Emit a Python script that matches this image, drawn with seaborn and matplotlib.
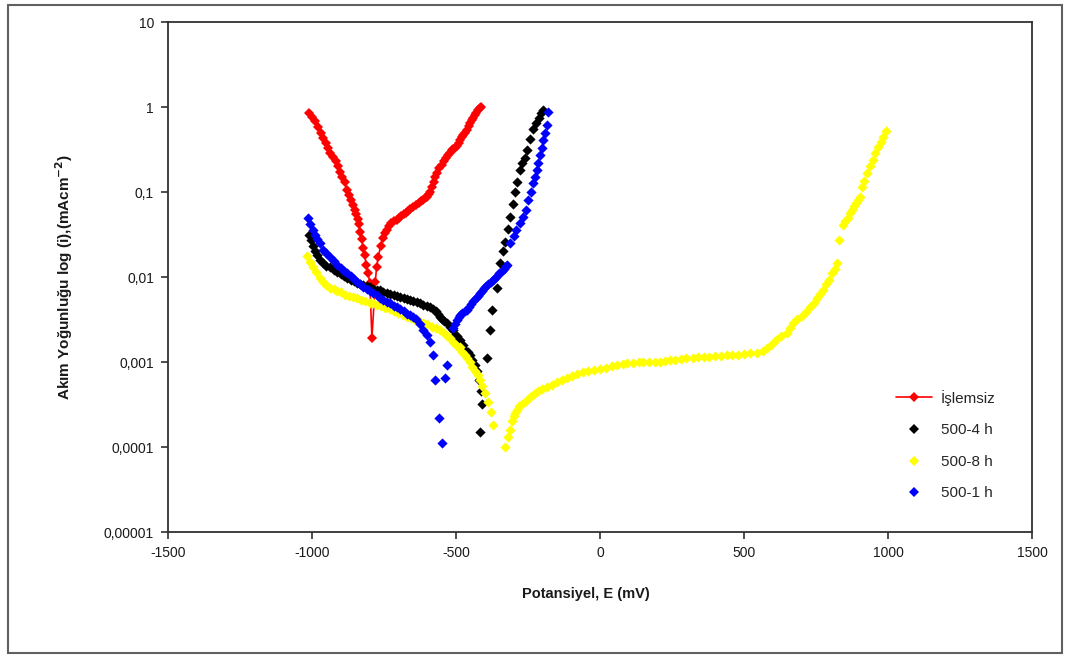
import numpy as np
import pandas as pd
import matplotlib
matplotlib.use("Agg")
import matplotlib.pyplot as plt
import seaborn as sns
from matplotlib.lines import Line2D
from matplotlib.patches import Rectangle
from matplotlib.ticker import FixedLocator, FixedFormatter, NullLocator

# ---------------- data ----------------
islemsiz_x = [-1010, -1000, -990, -980, -970, -962, -952, -945, -936, -928, -918, -910, -902, -895,
              -886, -878, -870, -865, -858, -851, -846, -842, -838, -833, -828, -822, -817, -812,
              -805, -799, -792, -780, -776, -770, -762, -753, -745, -740, -732, -725, -715, -705,
              -698, -690, -682, -675, -668, -660, -649, -640, -630, -622, -615, -608, -601, -595,
              -590, -584, -578, -572, -566, -558, -550, -543, -535, -528, -520, -515, -510, -503,
              -497, -491, -485, -480, -475, -468, -462, -456, -450, -445, -440, -435, -430, -424,
              -417, -412]
islemsiz_y = [0.85, 0.77, 0.68, 0.58, 0.50, 0.43, 0.38, 0.33, 0.29, 0.26, 0.23, 0.20, 0.17, 0.15,
              0.13, 0.105, 0.092, 0.08, 0.07, 0.062, 0.055, 0.048, 0.042, 0.034, 0.028, 0.022, 0.018, 0.014,
              0.011, 0.0085, 0.0019, 0.0088, 0.013, 0.017, 0.023, 0.029, 0.033, 0.036, 0.040, 0.043, 0.045, 0.047,
              0.050, 0.052, 0.055, 0.057, 0.060, 0.063, 0.067, 0.071, 0.075, 0.078, 0.081, 0.084, 0.088, 0.094,
              0.10, 0.115, 0.13, 0.15, 0.167, 0.19, 0.21, 0.23, 0.25, 0.27, 0.29, 0.31, 0.32, 0.33,
              0.35, 0.38, 0.41, 0.44, 0.47, 0.50, 0.54, 0.59, 0.65, 0.70, 0.75, 0.80, 0.85, 0.91,
              0.97, 1.0]

h4_x = [-1012, -1005, -997, -990, -982, -972, -962, -950, -938, -925, -912, -900, -888, -878, -866,
        -855, -843, -833, -823, -810, -798, -787, -775, -764, -752, -740, -728, -717, -705, -693,
        -682, -670, -660, -649, -637, -625, -614, -602, -590, -580, -570, -562, -556, -548, -540,
        -531, -522, -512, -503, -495, -486, -477, -468, -460, -451, -443, -435, -427, -420, -414,
        -410, -417,
        -392, -382, -375, -358, -347, -338, -330, -321, -312, -303, -295, -287, -278, -270, -262,
        -253, -243, -233, -223, -213, -205, -198]
h4_y = [0.031, 0.027, 0.023, 0.020, 0.018, 0.016, 0.0145, 0.0135, 0.013, 0.0122, 0.0115, 0.0108, 0.0102, 0.0097, 0.0093,
        0.0089, 0.0085, 0.0083, 0.0081, 0.0078, 0.0076, 0.0073, 0.0071, 0.0070, 0.0067, 0.0065, 0.0063, 0.0062, 0.0060, 0.0058,
        0.0057, 0.0055, 0.0054, 0.0052, 0.0051, 0.0049, 0.0047, 0.0046, 0.0044, 0.0042, 0.0040, 0.0037, 0.0034, 0.0032, 0.0030,
        0.0029, 0.0026, 0.0024, 0.0021, 0.0020, 0.0018, 0.0016, 0.0014, 0.0013, 0.0012, 0.00105, 0.00092, 0.00078, 0.00062, 0.00046,
        0.00032, 0.00015,
        0.0011, 0.0024, 0.0041, 0.0075, 0.0147, 0.020, 0.026, 0.037, 0.051, 0.072, 0.10, 0.13, 0.18, 0.22, 0.25,
        0.31, 0.42, 0.55, 0.65, 0.75, 0.85, 0.93]

h8_x = [-1017, -1008, -997, -985, -973, -962, -950, -938, -925, -913, -900, -886, -872, -858, -845,
        -830, -815, -800, -788, -775, -760, -745, -729, -715, -700, -685, -670, -657, -643, -628,
        -615, -600, -585, -570, -556, -543, -530, -520, -510, -500, -493, -486, -478, -470, -462,
        -451, -443, -434, -425, -417, -408, -399, -389, -380, -372,
        -330, -320, -312, -306, -300, -294, -288, -280, -270, -258, -243, -230, -215, -200, -184,
        -168, -150, -133, -115, -98, -80, -60, -40, -20, 0, 20, 40, 60, 80, 94, 115, 135, 150, 170,
        190, 208, 225, 243, 260, 280, 300, 323, 340, 360, 380, 400, 420, 441, 460, 480, 500, 520,
        545, 565, 580, 595, 610, 630, 649, 660, 670, 685, 700, 715, 729, 742, 755, 765, 774, 785,
        795, 806, 815, 823, 830, 844, 852, 860, 868, 875, 883, 890, 897, 903, 910, 918, 927, 937,
        948, 956, 965, 975, 983, 993]
h8_y = [0.0175, 0.015, 0.013, 0.0115, 0.0098, 0.0087, 0.0080, 0.0075, 0.0072, 0.0069, 0.0066, 0.0062, 0.0060, 0.0058, 0.0056,
        0.0054, 0.0052, 0.0050, 0.0049, 0.0047, 0.0045, 0.0043, 0.0042, 0.0040, 0.0038, 0.0036, 0.0034, 0.0033, 0.0031, 0.0030,
        0.0029, 0.0028, 0.0026, 0.0025, 0.0024, 0.0022, 0.0020, 0.0019, 0.0017, 0.0016, 0.0015, 0.0015, 0.0013, 0.0012, 0.0011,
        0.00099, 0.00088, 0.00078, 0.00070, 0.00062, 0.00052, 0.00043, 0.00034, 0.00026, 0.00018,
        0.00010, 0.00013, 0.00016, 0.00020, 0.00023, 0.00025, 0.00027, 0.00030, 0.00032, 0.00035, 0.00039, 0.00042, 0.00045, 0.00048, 0.00051,
        0.00054, 0.00058, 0.00061, 0.00065, 0.00068, 0.00072, 0.00076, 0.00079, 0.00081, 0.00083, 0.00086, 0.00089, 0.00092, 0.00095, 0.00097, 0.00098, 0.00099, 0.00099, 0.0010,
        0.0010, 0.0010, 0.00103, 0.00105, 0.00106, 0.00108, 0.00110, 0.00112, 0.00113, 0.00115, 0.00116, 0.00117, 0.00118, 0.0012, 0.0012, 0.00122, 0.00125, 0.00127,
        0.00129, 0.00135, 0.00146, 0.0016, 0.0018, 0.0020, 0.0022, 0.0025, 0.0029, 0.0032, 0.0035, 0.0039, 0.0044, 0.0050, 0.0057, 0.0063, 0.0071, 0.0082,
        0.0092, 0.011, 0.0125, 0.0147, 0.027, 0.041, 0.045, 0.050, 0.056, 0.062, 0.068, 0.075, 0.080, 0.087, 0.114, 0.135, 0.167, 0.20,
        0.24, 0.29, 0.34, 0.39, 0.44, 0.52]

h1_x = [-1014, -1006, -997, -990, -982, -972, -962, -950, -938, -925, -912, -900, -888, -878, -866,
        -855, -843, -833, -823, -810, -798, -787, -775, -764, -752, -740, -728, -717, -705, -693,
        -682, -670, -660, -649, -638, -626, -615, -602, -590, -580,
        -531, -573, -538, -559, -549,
        -510, -503, -497, -490, -485, -478, -470, -462, -455, -448, -440, -432, -425, -417, -410,
        -402, -395, -388, -380, -372, -365, -358, -350, -342, -335, -328, -323, -312, -300, -290,
        -279, -267, -258, -250, -241, -233, -226, -220, -214, -208, -203, -198, -191, -184, -181]
h1_y = [0.049, 0.042, 0.036, 0.031, 0.028, 0.025, 0.021, 0.019, 0.017, 0.0155, 0.014, 0.0128, 0.0118, 0.011, 0.0102,
        0.0095, 0.0088, 0.0083, 0.0077, 0.0073, 0.0068, 0.0064, 0.0061, 0.0057, 0.0054, 0.0051, 0.0049, 0.0046, 0.0044, 0.0042,
        0.0040, 0.0037, 0.0036, 0.0034, 0.0032, 0.0028, 0.0024, 0.0021, 0.0017, 0.0012,
        0.00092, 0.00062, 0.00065, 0.00022, 0.00011,
        0.0025, 0.0028, 0.0031, 0.0034, 0.0036, 0.0038, 0.0040, 0.0041, 0.0044, 0.0048, 0.0052, 0.0056, 0.0060, 0.0065, 0.0069,
        0.0074, 0.0078, 0.0083, 0.0087, 0.0092, 0.0097, 0.0102, 0.011, 0.0118, 0.0125, 0.0133, 0.014, 0.025, 0.030, 0.036,
        0.043, 0.051, 0.062, 0.081, 0.10, 0.128, 0.15, 0.18, 0.22, 0.27, 0.33, 0.41, 0.50, 0.61, 0.87]

y_ticks = [1e-5, 1e-4, 1e-3, 1e-2, 1e-1, 1, 10]
y_labels = ["0,00001", "0,0001", "0,001", "0,01", "0,1", "1", "10"]
x_ticks = [-1500, -1000, -500, 0, 500, 1000, 1500]
x_labels = ["-1500", "-1000", "-500", "0", "500", "1000", "1500"]

series_names = ["İşlemsiz", "500-4 h", "500-8 h", "500-1 h"]
series_colors = ["#FF0000", "#000000", "#FFFF00", "#0000FF"]

# ---------------- plot ----------------
sns.set_style("white")
plt.rcParams["font.family"] = ["Liberation Sans", "DejaVu Sans"]

W, H = 1067, 655
fig = plt.figure(figsize=(W / 100, H / 100), dpi=100)
ax = fig.add_axes([168 / W, 1 - 532 / H, (1032 - 168) / W, (532 - 22) / H])

ms = 5.2
df_red = pd.DataFrame({"x": islemsiz_x, "y": islemsiz_y})
sns.lineplot(data=df_red, x="x", y="y", sort=False, ax=ax, color=series_colors[0],
             lw=1.2, marker="D", markersize=ms, markeredgewidth=0, estimator=None)

for xs, ys, c in [(h4_x, h4_y, series_colors[1]), (h8_x, h8_y, series_colors[2]), (h1_x, h1_y, series_colors[3])]:
    d = pd.DataFrame({"x": xs, "y": ys})
    sns.scatterplot(data=d, x="x", y="y", ax=ax, color=c, marker="D", s=ms ** 2,
                    linewidth=0, zorder=3)

ax.set_yscale("log")
ax.set_xlim(-1500, 1500)
ax.set_ylim(1e-5, 10)
ax.yaxis.set_major_locator(FixedLocator(y_ticks))
ax.yaxis.set_major_formatter(FixedFormatter(y_labels))
ax.yaxis.set_minor_locator(NullLocator())
ax.xaxis.set_major_locator(FixedLocator(x_ticks))
ax.xaxis.set_major_formatter(FixedFormatter(x_labels))

for s in ax.spines.values():
    s.set_color("#303030")
    s.set_linewidth(1.3)
ax.tick_params(axis="both", which="major", direction="out", length=5, width=1.2,
               color="#303030", labelsize=10, labelcolor="#1a1a1a", left=True, bottom=True, pad=5)

ax.set_xlabel("Potansiyel, E (mV)", fontsize=10.5, fontweight="bold", color="#1a1a1a")
ax.set_ylabel("Akım Yoğunluğu log (i),(mAcm$^{\\mathbf{-2}}$)", fontsize=11, fontweight="bold", color="#1a1a1a")
ax.xaxis.set_label_coords(0.484, -0.108)
ax.yaxis.set_label_coords(-0.108, 0.5)

handles = [
    Line2D([0], [0], color=series_colors[0], lw=1.2, marker="D", markersize=ms, markeredgewidth=0),
    Line2D([0], [0], color=series_colors[1], lw=0, marker="D", markersize=ms, markeredgewidth=0),
    Line2D([0], [0], color=series_colors[2], lw=0, marker="D", markersize=ms, markeredgewidth=0),
    Line2D([0], [0], color=series_colors[3], lw=0, marker="D", markersize=ms, markeredgewidth=0),
]
leg = fig.legend(handles, series_names, loc="upper left",
                 bbox_to_anchor=(882 / W, 1 - 376 / H), frameon=False,
                 fontsize=11, handlelength=2.4, handletextpad=0.55, labelspacing=1.15)

fig.patches.append(Rectangle((8 / W, 2 / H), (1062 - 8) / W, (650 - 2) / H, transform=fig.transFigure,
                             fill=False, edgecolor="#606060", lw=1.5))

fig.savefig("out.png", dpi=100)
